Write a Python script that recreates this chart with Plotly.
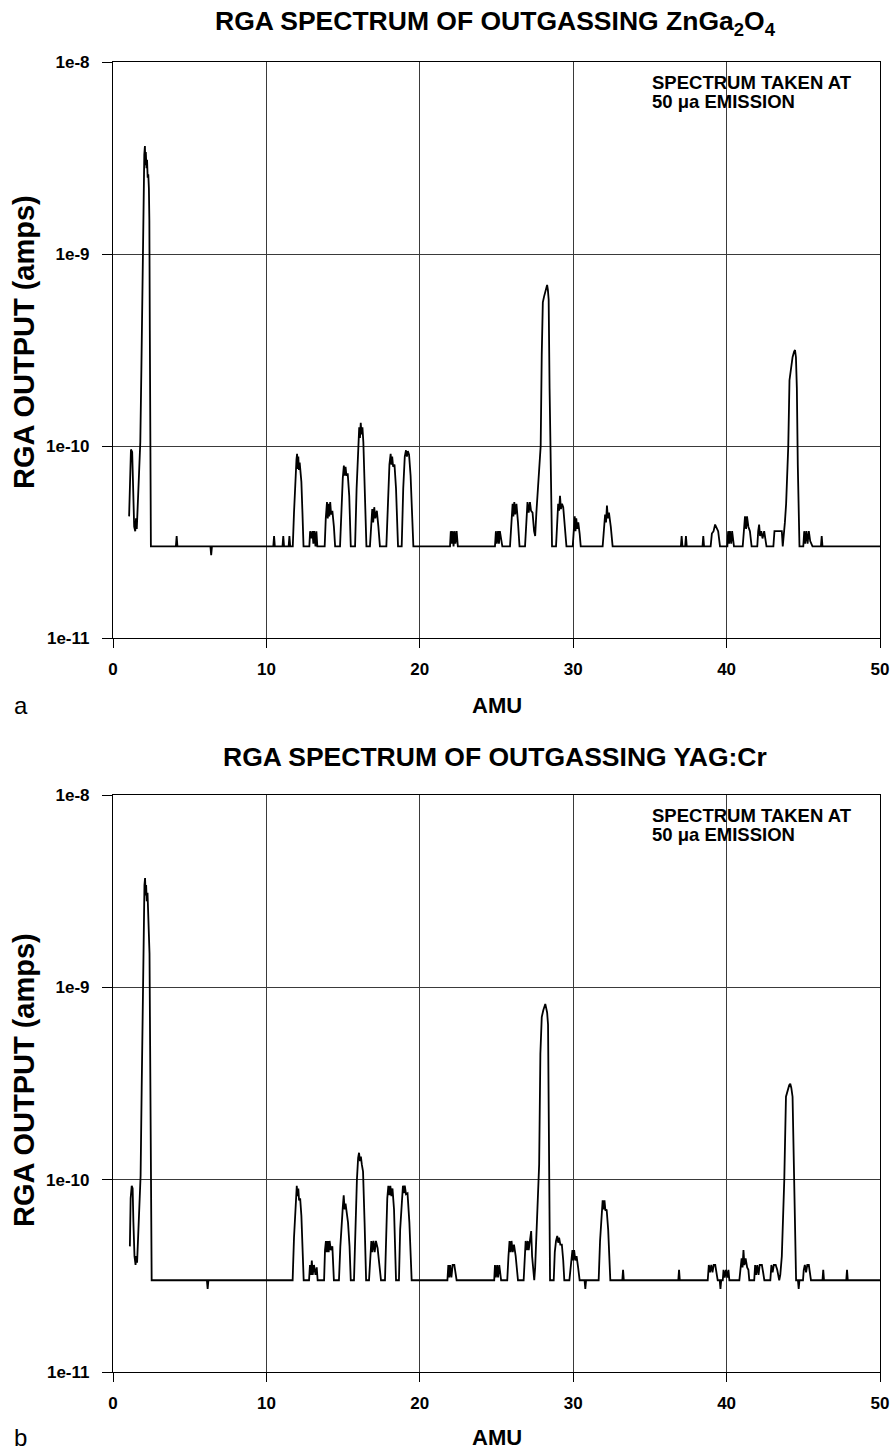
import plotly.graph_objects as go

# ---------------- data (AMU, RGA output in units of 1e-11 A) ----------------
amu_a = [1.05, 1.1, 1.17, 1.25, 1.3, 1.38, 1.45, 1.5, 1.55, 1.62, 1.7, 1.78, 1.85, 1.92, 1.98, 2.04, 2.08, 2.11,
         2.14, 2.18, 2.22, 2.26, 2.3, 2.34, 2.37, 2.40, 2.44, 2.47, 4.1, 4.15, 4.2, 6.35, 6.4, 6.45, 10.45, 10.5,
         10.55, 11.05, 11.1, 11.15, 11.45, 11.5, 11.55, 11.72, 11.8, 11.88, 11.96, 12.0, 12.04, 12.08, 12.12, 12.17,
         12.22, 12.28, 12.35, 12.42, 12.8, 12.85, 12.92, 13.0, 13.06, 13.12, 13.2, 13.26, 13.32, 13.8, 13.87, 13.95,
         14.0, 14.05, 14.1, 14.16, 14.22, 14.3, 14.4, 14.48, 14.8, 14.9, 14.98, 15.05, 15.1, 15.16, 15.22, 15.3,
         15.4, 15.5, 15.78, 15.88, 15.98, 16.05, 16.1, 16.15, 16.2, 16.26, 16.32, 16.42, 16.52, 16.75, 16.83, 16.9,
         16.96, 17.03, 17.1, 17.2, 17.3, 17.4, 17.82, 17.92, 18.02, 18.1, 18.15, 18.2, 18.26, 18.35, 18.45, 18.58,
         18.82, 18.92, 19.02, 19.1, 19.16, 19.22, 19.3, 19.4, 19.5, 19.58, 21.97, 22.02, 22.08, 22.14, 22.2, 22.26,
         22.32, 22.4, 22.48, 24.9, 24.96, 25.02, 25.1, 25.16, 25.22, 25.3, 25.38, 25.88, 25.96, 26.05, 26.1, 26.16,
         26.22, 26.3, 26.4, 26.5, 26.86, 26.94, 27.02, 27.1, 27.18, 27.25, 27.35, 27.45, 27.52, 27.6, 27.7, 27.8,
         27.88, 27.95, 28.02, 28.1, 28.18, 28.25, 28.3, 28.35, 28.4, 28.46, 28.52, 28.58, 28.62, 28.88, 28.95,
         29.02, 29.08, 29.14, 29.2, 29.27, 29.35, 29.45, 29.56, 29.97, 30.03, 30.1, 30.15, 30.2, 30.26, 30.33,
         30.42, 30.49, 31.92, 32.0, 32.08, 32.14, 32.2, 32.26, 32.33, 32.45, 32.57, 37.02, 37.07, 37.12, 37.3,
         37.35, 37.4, 38.43, 38.48, 38.53, 38.96, 39.04, 39.15, 39.25, 39.35, 39.45, 39.57, 40.05, 40.1, 40.16,
         40.22, 40.3, 40.36, 40.48, 41.05, 41.12, 41.2, 41.27, 41.33, 41.42, 41.52, 41.63, 42.0, 42.06, 42.12,
         42.18, 42.26, 42.34, 42.45, 42.6, 43.05, 43.12, 43.5, 43.6, 43.66, 43.72, 43.8, 43.88, 43.96, 44.02, 44.1,
         44.2, 44.3, 44.4, 44.46, 44.52, 44.58, 44.64, 44.7, 44.75, 45.0, 45.06, 45.12, 45.2, 45.28, 45.36, 45.45,
         45.6, 46.15, 46.2, 46.25, 50.0]
rga_a = [4.3, 7.5, 9.6, 9.3, 6.0, 3.8, 3.6, 4.2, 3.7, 5.0, 7.5, 10.5, 25, 80, 200, 330, 365, 290,
         340, 280, 310, 250, 260, 220, 150, 40, 10, 3.0, 3.0, 3.4, 3.0, 3.0, 2.7, 3.0, 3.0, 3.4,
         3.0, 3.0, 3.4, 3.0, 3.0, 3.4, 3.0, 3.0, 4.5, 6.8, 8.5, 9.1, 7.6, 8.8, 7.5, 8.2,
         7.2, 6.5, 4.5, 3.0, 3.0, 3.6, 3.3, 3.6, 3.1, 3.6, 3.0, 3.6, 3.0, 3.0, 4.2, 5.1,
         4.2, 5.0, 4.3, 5.1, 4.4, 4.6, 3.8, 3.0, 3.0, 5.0, 6.8, 7.9, 7.0, 7.8, 7.0, 7.2,
         5.5, 3.0, 3.0, 6.0, 10.0, 12.5, 11.0, 13.2, 11.5, 12.5, 10.5, 6.0, 3.0, 3.0, 4.0, 4.7,
         4.0, 4.8, 4.2, 4.6, 3.8, 3.0, 3.0, 5.5, 8.0, 9.1, 8.0, 8.8, 7.8, 8.0, 6.0, 3.0,
         3.0, 6.0, 8.8, 9.5, 8.8, 9.4, 9.0, 7.0, 4.0, 3.0, 3.0, 3.6, 3.1, 3.6, 3.0, 3.6,
         3.1, 3.6, 3.0, 3.0, 3.6, 3.1, 3.6, 3.1, 3.6, 3.2, 3.0, 3.0, 4.2, 5.0, 4.3, 5.1,
         4.4, 5.0, 4.0, 3.0, 3.0, 4.2, 5.1, 4.5, 5.1, 4.6, 4.5, 3.6, 3.4, 4.5, 6, 8,
         10, 30, 56, 60, 64, 66, 69, 65, 58, 20, 8, 4.5, 3.0, 3.0, 4.0,
         5.0, 4.6, 5.5, 4.7, 5.0, 4.8, 4.0, 3.0, 3.0, 3.8, 4.3, 3.6, 4.2, 3.7, 4.0,
         3.5, 3.0, 3.0, 3.8, 4.4, 4.0, 4.9, 4.2, 4.5, 3.8, 3.0, 3.0, 3.4, 3.0, 3.0,
         3.4, 3.0, 3.0, 3.4, 3.0, 3.0, 3.5, 3.6, 3.9, 3.7, 3.6, 3.0, 3.0, 3.6, 3.1,
         3.6, 3.1, 3.6, 3.0, 3.0, 3.7, 4.3, 3.7, 4.3, 3.8, 3.6, 3.0, 3.0, 3.6, 3.9,
         3.4, 3.6, 3.3, 3.6, 3.0, 3.0, 3.6, 3.6, 3.6, 3.0, 3.6, 4.0, 5, 7, 10, 22,
         26, 29, 31, 31.6, 29, 20, 8, 4.5, 3.0, 3.0, 3.6, 3.1, 3.6, 3.1, 3.6, 3.2,
         3.0, 3.0, 3.4, 3.0, 3.0]

amu_b = [1.1, 1.15, 1.22, 1.28, 1.33, 1.4, 1.47, 1.52, 1.57, 1.63, 1.72, 1.8, 1.87, 1.94, 2.0, 2.05, 2.09, 2.13,
         2.16, 2.2, 2.25, 2.29, 2.33, 2.38, 2.42, 2.47, 2.52, 6.12, 6.17, 6.22, 11.71, 11.8, 11.9, 11.98, 12.03,
         12.08, 12.13, 12.2, 12.28, 12.36, 12.43, 12.78, 12.84, 12.9, 12.96, 13.02, 13.1, 13.2, 13.28, 13.34, 13.76,
         13.82, 13.88, 13.94, 14.0, 14.06, 14.12, 14.2, 14.3, 14.4, 14.73, 14.82, 14.9, 14.98, 15.04, 15.1, 15.16,
         15.24, 15.32, 15.42, 15.5, 15.71, 15.8, 15.9, 15.98, 16.04, 16.1, 16.16, 16.22, 16.3, 16.4, 16.5, 16.69,
         16.76, 16.84, 16.9, 16.98, 17.06, 17.14, 17.25, 17.38, 17.47, 17.73, 17.8, 17.88, 17.95, 18.02, 18.08,
         18.15, 18.22, 18.32, 18.45, 18.64, 18.72, 18.82, 18.9, 18.96, 19.02, 19.1, 19.2, 19.32, 19.47, 21.8, 21.86,
         21.92, 21.98, 22.06, 22.14, 22.25, 22.33, 22.4, 24.85, 24.9, 24.96, 25.04, 25.1, 25.18, 25.3, 25.7, 25.78,
         25.85, 25.92, 25.98, 26.06, 26.14, 26.25, 26.35, 26.4, 26.77, 26.84, 26.9, 26.97, 27.04, 27.1, 27.18,
         27.26, 27.32, 27.4, 27.46, 27.52, 27.6, 27.7, 27.78, 27.86, 27.95, 28.05, 28.12, 28.18, 28.24, 28.3, 28.36,
         28.4, 28.45, 28.49, 28.73, 28.8, 28.88, 28.96, 29.02, 29.08, 29.16, 29.26, 29.35, 29.42, 29.75, 29.82,
         29.88, 29.95, 30.0, 30.06, 30.14, 30.22, 30.32, 30.42, 30.74, 30.79, 30.84, 31.66, 31.75, 31.85, 31.92,
         31.98, 32.04, 32.1, 32.18, 32.28, 32.36, 32.42, 33.2, 33.25, 33.3, 36.85, 36.9, 36.95, 38.77, 38.84, 38.92,
         39.0, 39.08, 39.16, 39.26, 39.34, 39.42, 39.55, 39.6, 39.65, 39.75, 39.8, 39.88, 39.96, 40.05, 40.12,
         40.18, 40.83, 40.9, 40.98, 41.04, 41.1, 41.16, 41.24, 41.34, 41.42, 41.48, 41.8, 41.86, 41.92, 42.0,
         42.08, 42.16, 42.3, 42.38, 42.46, 42.85, 42.92, 43.0, 43.08, 43.2, 43.3, 43.43, 43.5, 43.6, 43.68, 43.76,
         43.87, 43.98, 44.08, 44.15, 44.22, 44.3, 44.36, 44.41, 44.47, 44.53, 44.65, 44.7, 44.75, 44.98, 45.03,
         45.1, 45.18, 45.26, 45.36, 45.44, 45.5, 46.25, 46.3, 46.35, 47.8, 47.85, 47.9, 50.0]
rga_b = [4.5, 8.0, 9.3, 9.0, 6.0, 4.0, 3.6, 4.0, 3.7, 5.0, 7.5, 10.5, 30, 100, 230, 340, 370, 300,
         340, 280, 310, 250, 240, 150, 50, 10, 3.0, 3.0, 2.7, 3.0, 3.0, 5, 7.5, 9.3, 8.2,
         9.0, 7.8, 8.0, 6.5, 4.5, 3.0, 3.0, 3.6, 3.2, 3.8, 3.2, 3.6, 3.2, 3.5, 3.0, 3.0,
         4.3, 4.8, 4.2, 4.8, 4.2, 4.8, 4.3, 4.5, 3.0, 3.0, 4.5, 6.0, 7.2, 8.3, 7.0, 7.5,
         6.8, 6.0, 4.5, 3.0, 3.0, 5.5, 10, 13, 13.8, 12.5, 13.2, 12.0, 11, 6, 3.0, 3.0,
         4.0, 4.8, 4.2, 4.8, 4.2, 4.8, 4.4, 3.6, 3.0, 3.0, 5.5, 8.0, 9.3, 8.3, 9.3,
         8.2, 9.0, 7.0, 3.0, 3.0, 5.5, 8.0, 9.3, 8.5, 9.3, 8.4, 8.5, 6.0, 3.0, 3.0, 3.6,
         3.1, 3.6, 3.1, 3.6, 3.6, 3.2, 3.0, 3.0, 3.6, 3.1, 3.6, 3.1, 3.6, 3.0, 3.0, 4.0,
         4.8, 4.2, 4.8, 4.2, 4.6, 4.0, 3.4, 3.0, 3.0, 4.2, 4.8, 4.3, 4.8, 4.3, 4.8,
         5.4, 4.0, 3.4, 3.0, 3.5, 5, 8, 12, 45, 70, 76, 79, 82, 78, 74, 64,
         20, 5, 3.0, 3.0, 4.2, 4.8, 5.1, 4.7, 5.0, 4.6, 4.6, 3.8, 3.0, 3.0, 3.5,
         4.0, 4.3, 3.8, 4.3, 3.8, 4.0, 3.5, 3.0, 3.0, 2.7, 3.0, 3.0, 4.8, 6.8, 7.8,
         7.0, 7.8, 6.9, 7.0, 5.5, 3.8, 3.0, 3.0, 3.4, 3.0, 3.0, 3.4, 3.0, 3.0, 3.6, 3.3,
         3.6, 3.3, 3.6, 3.6, 3.3, 3.0, 3.0, 2.7, 3.0, 3.0, 3.4, 3.1, 3.4, 3.1, 3.4,
         3.0, 3.0, 3.4, 3.9, 3.5, 4.3, 3.6, 3.9, 3.5, 3.4, 3.0, 3.0, 3.6, 3.2, 3.6,
         3.2, 3.6, 3.6, 3.3, 3.0, 3.0, 3.6, 3.3, 3.6, 3.6, 3.4, 3.0, 3.2, 4, 6, 10,
         27, 29.5, 31, 31.5, 30, 27, 15, 10, 5, 3.0, 3.0, 2.7, 3.0, 3.0, 3.4,
         3.6, 3.3, 3.6, 3.6, 3.3, 3.0, 3.0, 3.4, 3.0, 3.0, 3.4, 3.0, 3.0]

unit = 1e-11
titles = ["RGA SPECTRUM OF OUTGASSING ZnGa<sub>2</sub>O<sub>4</sub>",
          "RGA SPECTRUM OF OUTGASSING YAG:Cr"]
panel_letters = ["a", "b"]
x_ticks = [0, 10, 20, 30, 40, 50]
y_ticks = [1e-11, 1e-10, 1e-9, 1e-8]
y_ticktext = ["1e-11", "1e-10", "1e-9", "1e-8"]

# ---------------- layout geometry (pixels) ----------------
W, H = 891, 1451
L, R, T, B = 113, 11, 62, 79
plot_h = H - T - B
panel_px = [(62, 638), (795, 1372)]  # (top, bottom) pixel rows for each panel


def py2paper(py):
    return (H - B - py) / plot_h


def px2paper(px):
    return (px - L) / (W - L - R)


FONT = "Liberation Sans, Arial, sans-serif"

fig = go.Figure()
series = [(amu_a, rga_a), (amu_b, rga_b)]
for i, (xs, ys) in enumerate(series):
    fig.add_trace(go.Scatter(
        x=xs, y=[v * unit for v in ys], mode="lines",
        line=dict(color="black", width=1.8),
        xaxis="x" if i == 0 else "x2", yaxis="y" if i == 0 else "y2",
        showlegend=False, hoverinfo="skip"))

axis_common = dict(
    showline=True, mirror=True, linecolor="black", linewidth=1.2,
    showgrid=True, gridcolor="#3a3a3a", gridwidth=1,
    ticks="outside", tickcolor="black", ticklen=9, tickwidth=1,
    zeroline=False,
    tickfont=dict(family=FONT, size=17, color="black", weight="bold"),
)

layout = dict(
    width=W, height=H,
    margin=dict(l=L, r=R, t=T, b=B, autoexpand=False),
    paper_bgcolor="white", plot_bgcolor="white",
    showlegend=False,
)
for i, (ptop, pbot) in enumerate(panel_px):
    sx = "" if i == 0 else "2"
    dom = [py2paper(pbot), py2paper(ptop)]
    layout["xaxis" + sx] = dict(axis_common, range=[0, 50], tickvals=x_ticks,
                                domain=[0, 1], anchor="y" + sx, ticklabelstandoff=6)
    layout["yaxis" + sx] = dict(axis_common, type="log", range=[-11, -8], tickvals=y_ticks,
                                ticktext=y_ticktext, domain=dom, anchor="x" + sx,
                                ticklen=10, ticklabelstandoff=9)
fig.update_layout(**layout)

annotations = []
title_y = [23, 757]
amu_y = [705, 1437]
ylab_y = [342, 1080]
note_y = [(82, 101), (815, 834)]
for i in range(2):
    annotations.append(dict(text=titles[i], x=px2paper(495), y=py2paper(title_y[i]),
                            xref="paper", yref="paper", showarrow=False,
                            xanchor="center", yanchor="middle",
                            font=dict(family=FONT, size=26.5, color="black", weight="bold")))
    annotations.append(dict(text="AMU", x=px2paper(497), y=py2paper(amu_y[i]),
                            xref="paper", yref="paper", showarrow=False,
                            xanchor="center", yanchor="middle",
                            font=dict(family=FONT, size=22, color="black", weight="bold")))
    annotations.append(dict(text="RGA OUTPUT (amps)", x=px2paper(24), y=py2paper(ylab_y[i]),
                            xref="paper", yref="paper", showarrow=False, textangle=-90,
                            xanchor="center", yanchor="middle",
                            font=dict(family=FONT, size=29, color="black", weight="bold")))
    annotations.append(dict(text=panel_letters[i], x=px2paper(12), y=py2paper(amu_y[i]),
                            xref="paper", yref="paper", showarrow=False,
                            xanchor="left", yanchor="middle",
                            font=dict(family=FONT, size=24, color="black")))
    annotations.append(dict(text="SPECTRUM TAKEN AT", x=px2paper(650), y=py2paper(note_y[i][0]),
                            xref="paper", yref="paper", showarrow=False,
                            xanchor="left", yanchor="middle",
                            font=dict(family=FONT, size=18.5, color="black", weight="bold")))
    annotations.append(dict(text="50 μa EMISSION", x=px2paper(650), y=py2paper(note_y[i][1]),
                            xref="paper", yref="paper", showarrow=False,
                            xanchor="left", yanchor="middle",
                            font=dict(family=FONT, size=18.5, color="black", weight="bold")))
fig.update_layout(annotations=annotations)

fig.write_html("out.html")
